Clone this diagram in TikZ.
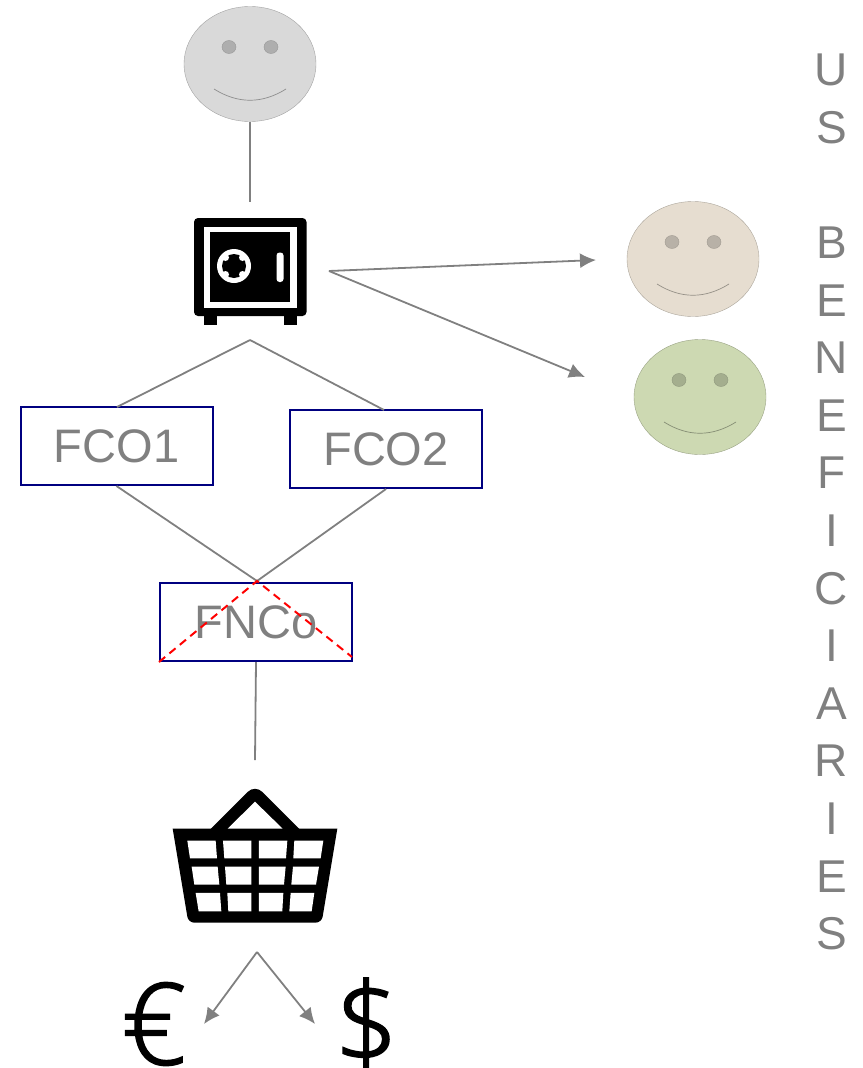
\documentclass[tikz,border=0pt]{standalone}
\usepackage{fontspec}
\usepackage{tikz}
\usetikzlibrary{shapes.geometric,arrows.meta}
\setmainfont{Liberation Sans}
\newfontfamily\moneyfont{Open Sans Light}[FakeBold=1.5]
\definecolor{linegray}{HTML}{808080}
\definecolor{boxnavy}{HTML}{000080}
\definecolor{facegray}{HTML}{D9D9D9}
\definecolor{facetan}{HTML}{E6DDD0}
\definecolor{facegreen}{HTML}{CDD9B2}
\newcommand{\drawsmiley}[4]{
\node [facebox, fill=#4, draw=#4!75!black] (#1) at (#2,#3) {};
\fill [#4!80!black, draw=#4!70!black, line width=0.4pt] (#2-21,#3-17) ellipse (7 and 6.5);
\fill [#4!80!black, draw=#4!70!black, line width=0.4pt] (#2+21,#3-17) ellipse (7 and 6.5);
\draw [#4!65!black, line width=0.7pt] (#2-36,#3+25) .. controls (#2-12,#3+40) and (#2+12,#3+40) .. (#2+36,#3+25);
}
\begin{document}
\begin{tikzpicture}[x=1pt,y=-1pt]
\tikzstyle{every node}+=[inner sep=0pt]
\tikzstyle{facebox}=[ellipse, minimum width=132pt, minimum height=115pt, line width=0.4pt]
\tikzstyle{fundbox}=[draw=boxnavy, line width=2pt, minimum width=192pt, minimum height=78pt, text=linegray, font=\fontsize{47}{47}\selectfont]
\tikzstyle{link}=[linegray, line width=1.8pt]
\tikzstyle{arrowlink}=[link, -{Latex[length=16pt,width=15pt]}]
\useasboundingbox (0,0) rectangle (862,1068);
\drawsmiley{owner}{250}{64}{facegray}
\drawsmiley{tanface}{693}{259}{facetan}
\drawsmiley{greenface}{700}{397}{facegreen}
\fill [black, rounded corners=4pt] (194,218) rectangle (306.5,316);
\fill [black] (204,314) rectangle (217,325);
\fill [black] (283.5,314) rectangle (297,325);
\fill [white] (203.5,227) rectangle (297,307.5);
\fill [black] (210,232) rectangle (290,302);
\fill [white] (234,266) circle (17);
\fill [black] (234,266) circle (12);
\foreach \dx in {-8.5,8.5} \foreach \dy in {-8.5,8.5}
\fill [white] (234+\dx,266+\dy) circle (3.5);
\fill [white, rounded corners=3pt] (276.5,252.5) rectangle (283.5,282);
\coordinate (safetop) at (250,202);
\coordinate (safeside) at (329,271);
\coordinate (safefoot) at (250,340);
\coordinate (tanend) at (596,260);
\coordinate (greenend) at (585,377);
\coordinate (fcoonetop) at (117,407);
\coordinate (fcotwotop) at (384,410);
\node [fundbox] (fcoone) at (116.5,446) {\raisebox{-2.5pt}{FCO1}};
\node [fundbox] (fcotwo) at (386,449) {\raisebox{-2.5pt}{FCO2}};
\node [fundbox] (fnco) at (256,622) {\raisebox{-2.5pt}{FNCo}};
\coordinate (fncotop) at (257,581);
\coordinate (fncoright) at (352,657);
\coordinate (baskettop) at (255,760);
\coordinate (fork) at (257,952);
\coordinate (euroend) at (204,1024);
\coordinate (dollarend) at (315,1024);
\draw [link] (owner.south) -- (safetop);
\draw [arrowlink] (safeside) -- (tanend);
\draw [arrowlink] (safeside) -- (greenend);
\draw [link] (safefoot) -- (fcoonetop);
\draw [link] (safefoot) -- (fcotwotop);
\draw [link] (fcoone.south) -- (fncotop);
\draw [link] (fcotwo.south) -- (fncotop);
\draw [link] (fnco.south) -- (baskettop);
\draw [red, line width=2pt, dash pattern=on 8pt off 5.5pt] (fnco.south west) -- (fncotop) -- (fncoright);
\begin{scope}[shift={(110,770)},x=0.3333pt,y=-0.3333pt]
\fill [black] (188,176) -- (682,176) [rounded corners=6pt] -- (635,458) -- (235,458) [sharp corners] -- cycle;
\fill [black] (290,189) [rounded corners=10pt] -- (435,44) [sharp corners] -- (580,189) -- cycle;
\fill [white] (353,176) -- (435,95) -- (518,176) -- cycle;
\fill [white] (232,212) -- (317,212) -- (321,265) -- (240,265) -- cycle;
\fill [white] (339,212) -- (424,212) -- (424,265) -- (343,265) -- cycle;
\fill [white] (447,212) -- (532,212) -- (528,265) -- (447,265) -- cycle;
\fill [white] (553,212) -- (640,212) -- (632,265) -- (550,265) -- cycle;
\fill [white] (245,290) -- (323,290) -- (328,344) -- (253,344) -- cycle;
\fill [white] (345,290) -- (424,290) -- (424,344) -- (349,344) -- cycle;
\fill [white] (447,290) -- (527,290) -- (522,344) -- (447,344) -- cycle;
\fill [white] (549,290) -- (627,290) -- (618,344) -- (544,344) -- cycle;
\fill [white] (257,369) -- (330,369) -- (334,424) -- (266,424) -- cycle;
\fill [white] (352,369) -- (424,369) -- (424,424) -- (355,424) -- cycle;
\fill [white] (447,369) -- (520,369) -- (517,424) -- (447,424) -- cycle;
\fill [white] (542,369) -- (613,369) -- (605,424) -- (538,424) -- cycle;
\end{scope}
\draw [arrowlink] (fork) -- (euroend);
\draw [arrowlink] (fork) -- (dollarend);
\node [font=\moneyfont\fontsize{113}{113}\selectfont] (euro) at (154,1024) {€};
\node [font=\moneyfont\fontsize{113}{113}\selectfont] (dollar) at (366.5,1024) {\$};
\node [align=center, text=linegray, font=\fontsize{46}{57.6}\selectfont] (uslabel) at (831.5,502) {U\\S\\\\B\\E\\N\\E\\F\\I\\C\\I\\A\\R\\I\\E\\S};
\end{tikzpicture}
\end{document}
